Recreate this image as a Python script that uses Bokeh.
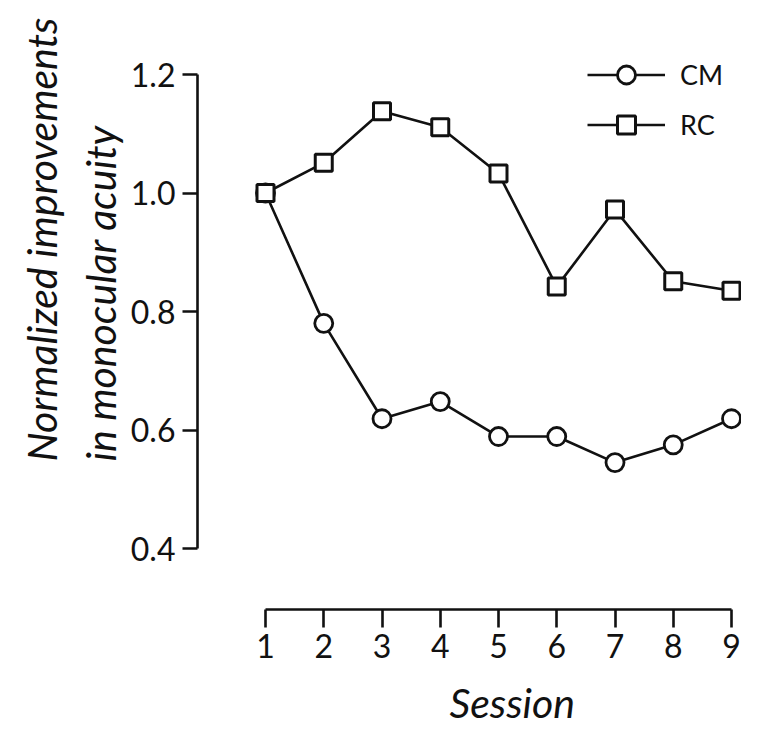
from bokeh.plotting import figure
from bokeh.models import FixedTicker, PrintfTickFormatter, Title, Legend, LegendItem, Range1d
from bokeh.embed import file_html
from bokeh.resources import INLINE

# ---- data ----
sessions = [1, 2, 3, 4, 5, 6, 7, 8, 9]
cm_values = [1.0, 0.78, 0.619, 0.648, 0.589, 0.589, 0.545, 0.575, 0.619]
rc_values = [1.0, 1.051, 1.138, 1.111, 1.033, 0.842, 0.972, 0.851, 0.835]
y_ticks = [0.4, 0.6, 0.8, 1.0, 1.2]
series_names = ["CM", "RC"]
y_title_lines = ["Normalized improvements", "in monocular acuity"]
x_title = "Session"

FONT = "Lato"
INK = "#111111"

# ---- layout (pixels) ----
W, H = 741, 727
LEFT, RIGHT, TOP, BOTTOM = 197, 0, 50, 118
FW, FH = W - LEFT - RIGHT, H - TOP - BOTTOM
PPX = 58.25     # px per session
PPY = 592.5     # px per unit of y
X0 = 1 - (265 - LEFT) / PPX
Y0 = 0.4 - ((TOP + FH) - 548) / PPY

p = figure(width=W, height=H, output_backend="svg", toolbar_location=None,
           x_range=Range1d(X0, X0 + FW / PPX), y_range=Range1d(Y0, Y0 + FH / PPY),
           min_border_left=LEFT, min_border_right=RIGHT,
           min_border_top=TOP, min_border_bottom=BOTTOM)
p.outline_line_color = None
p.grid.visible = False
p.background_fill_color = "white"
p.border_fill_color = "white"

# lines and markers
l1 = p.line(sessions, cm_values, line_color=INK, line_width=2.6)
s1 = p.scatter(sessions, cm_values, marker="circle", size=18, fill_color="white",
               line_color=INK, line_width=2.8)
l2 = p.line(sessions, rc_values, line_color=INK, line_width=2.6)
s2 = p.scatter(sessions, rc_values, marker="square", size=17, fill_color="white",
               line_color=INK, line_width=3)

# axes
xa = p.xaxis[0]
xa.ticker = FixedTicker(ticks=sessions)
xa.bounds = (sessions[0], sessions[-1])
xa.major_tick_out = 18
xa.major_tick_in = 0
xa.minor_tick_line_color = None
xa.axis_line_width = 2.6
xa.major_tick_line_width = 2.6
xa.axis_line_color = INK
xa.major_tick_line_color = INK
xa.major_label_text_font = FONT
xa.major_label_text_font_size = "32px"
xa.major_label_text_color = INK
xa.major_label_standoff = 6
# blank spacer label to push the title a little further down
xa.axis_label = " "
xa.axis_label_text_font_size = "10px"
xa.axis_label_standoff = 0

ya = p.yaxis[0]
ya.ticker = FixedTicker(ticks=y_ticks)
ya.formatter = PrintfTickFormatter(format="%.1f")
ya.bounds = (y_ticks[0], y_ticks[-1])
ya.major_tick_out = 15
ya.major_tick_in = 0
ya.minor_tick_line_color = None
ya.axis_line_width = 2.6
ya.major_tick_line_width = 2.6
ya.axis_line_color = INK
ya.major_tick_line_color = INK
ya.major_label_text_font = FONT
ya.major_label_text_font_size = "32px"
ya.major_label_text_color = INK
ya.major_label_standoff = 7

# y title: second line first (closest to the axis), then first line
title_style = dict(text_font=FONT, text_font_style="italic",
                   text_font_size="41px", text_color=INK)
p.add_layout(Title(text=y_title_lines[1], align="left", offset=148, standoff=6,
                   **title_style), "left")
p.add_layout(Title(text=y_title_lines[0], align="left", offset=148, standoff=9,
                   **title_style), "left")

# x title
p.add_layout(Title(text=x_title, align="left", offset=252, standoff=2,
                   **title_style), "below")

# legend
legend = Legend(items=[LegendItem(label=series_names[0], renderers=[l1, s1]),
                       LegendItem(label=series_names[1], renderers=[l2, s2])],
                location=(390, 462), margin=0, padding=0,
                glyph_width=78, glyph_height=45, label_height=45, spacing=5,
                label_standoff=15, label_text_font=FONT,
                label_text_font_size="27px", label_text_color=INK,
                border_line_color=None, background_fill_alpha=0)
p.add_layout(legend)

open("out.html", "w").write(file_html(p, INLINE))
